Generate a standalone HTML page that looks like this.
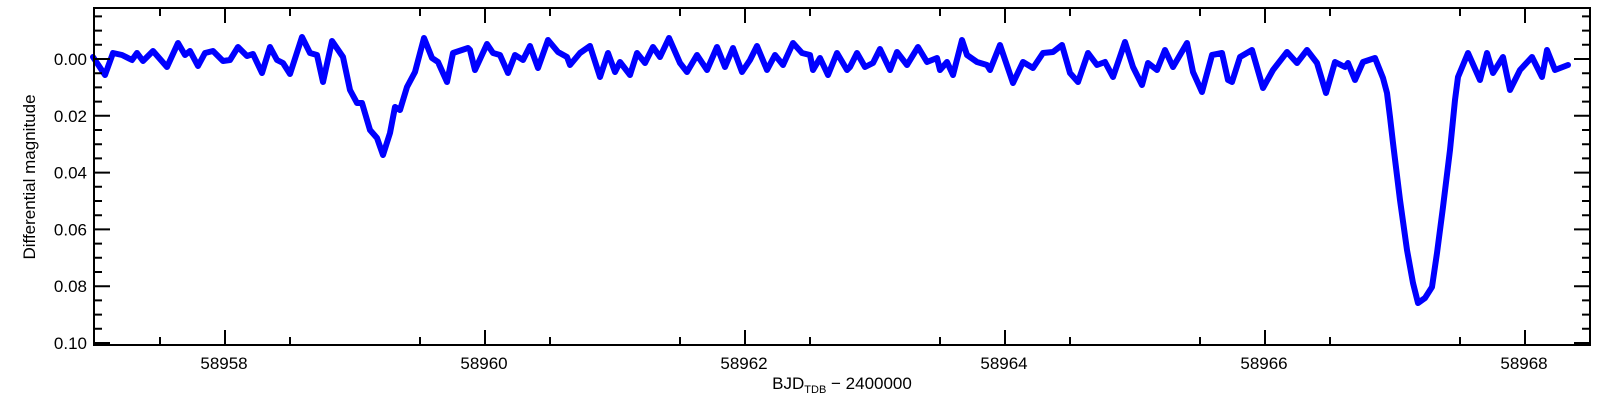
<!DOCTYPE html>
<html><head><meta charset="utf-8"><style>
html,body{margin:0;padding:0;background:#fff;}
svg{display:block;}
text{font-family:"Liberation Sans",sans-serif;font-size:17px;fill:#000;}
</style></head><body>
<svg width="1600" height="400" viewBox="0 0 1600 400" xmlns="http://www.w3.org/2000/svg">
<polyline fill="none" stroke="#0000ff" stroke-width="6" stroke-linejoin="round" stroke-linecap="round" points="
93,57 105,75 113,53 122,55 132,60 137,53 143,61 153,51 167,67 178,43 185,55 190,51 198,66 205,53 213,51 223,61 230,60 238,47 247,56 253,54 262,73 270,47 277,60 283,63 290,74 302,37 310,53 317,55 323,82 332,41 343,57 350,90 357,103 362,103 370,130 377,138 383,155 390,133 395,107 400,110 407,87 415,72 424,38 432,58 438,62 447,82 453,53 468,48
470,50 475,70 487,44 493,53 500,55 508,73 515,55 523,60 530,46 538,68 548,40 558,52 567,57 570,65 580,53 590,46 600,77 608,53 615,72 620,62 630,75 637,53 645,63 653,47 660,57 669,38 680,63 687,72 697,55 707,70 717,47 725,67 733,48 742,72 750,60 757,46 767,70 775,55 783,65 793,43 802,53 810,55 813,70 820,58 828,75 837,53 847,70
850,67 857,53 865,67 873,63 880,49 890,70 897,52 907,65 918,47 927,62 937,58 940,70 947,62 953,75 962,40 967,55 977,62 987,65 990,70 1000,45 1013,83 1023,62 1033,68 1043,53 1053,52 1062,45 1070,73 1078,82 1088,53 1097,65 1105,62 1113,77 1125,42 1133,67 1142,85 1148,63 1157,70 1165,50 1173,67 1187,43 1193,72 1202,92 1212,55 1222,53 1228,80
1232,82 1240,57 1252,50 1263,88 1273,70 1287,52 1297,63 1307,50 1317,63 1326,93 1335,62 1345,67 1348,63 1355,80 1363,62 1375,58 1383,78 1387,93 1390,117 1393,143 1400,200 1407,250 1413,283 1418,303 1425,298 1432,287 1437,253 1443,207 1450,150 1455,100 1458,77 1468,53 1480,80 1487,53 1493,73 1503,57 1510,90 1520,70 1532,57 1542,77 1547,50 1555,70 1568,65"/>
<g stroke="#000" stroke-width="2" fill="none">
<rect x="94" y="8" width="1496" height="337"/>
<path d="M225,345v-15M485,345v-15M745,345v-15M1005,345v-15M1265,345v-15M1525,345v-15
M225,8v15M485,8v15M745,8v15M1005,8v15M1265,8v15M1525,8v15
M160,345v-8M290,345v-8M420,345v-8M550,345v-8M680,345v-8M810,345v-8M940,345v-8M1070,345v-8M1200,345v-8M1330,345v-8M1460,345v-8
M160,8v8M290,8v8M420,8v8M550,8v8M680,8v8M810,8v8M940,8v8M1070,8v8M1200,8v8M1330,8v8M1460,8v8
M94,59h16M94,115.8h16M94,172.6h16M94,229.4h16M94,286.2h16M94,343h16
M1590,59h-16M1590,115.8h-16M1590,172.6h-16M1590,229.4h-16M1590,286.2h-16M1590,343h-16
M94,16.4h8M94,30.6h8M94,44.8h8M94,73.2h8M94,87.4h8M94,101.6h8M94,130h8M94,144.2h8M94,158.4h8M94,186.8h8M94,201h8M94,215.2h8M94,243.6h8M94,257.8h8M94,272h8M94,300.4h8M94,314.6h8M94,328.8h8
M1590,16.4h-8M1590,30.6h-8M1590,44.8h-8M1590,73.2h-8M1590,87.4h-8M1590,101.6h-8M1590,130h-8M1590,144.2h-8M1590,158.4h-8M1590,186.8h-8M1590,201h-8M1590,215.2h-8M1590,243.6h-8M1590,257.8h-8M1590,272h-8M1590,300.4h-8M1590,314.6h-8M1590,328.8h-8"/>
</g>
<g text-anchor="end">
<text x="87" y="65">0.00</text>
<text x="87" y="121.8">0.02</text>
<text x="87" y="178.6">0.04</text>
<text x="87" y="235.4">0.06</text>
<text x="87" y="292.2">0.08</text>
<text x="87" y="349">0.10</text>
</g>
<g text-anchor="middle">
<text x="224" y="369">58958</text>
<text x="484" y="369">58960</text>
<text x="744" y="369">58962</text>
<text x="1004" y="369">58964</text>
<text x="1264" y="369">58966</text>
<text x="1524" y="369">58968</text>
<text x="842" y="389">BJD<tspan font-size="11" dy="4">TDB</tspan><tspan dy="-4"> − 2400000</tspan></text>
<text transform="translate(35,177) rotate(-90)">Differential magnitude</text>
</g>
</svg>
</body></html>
